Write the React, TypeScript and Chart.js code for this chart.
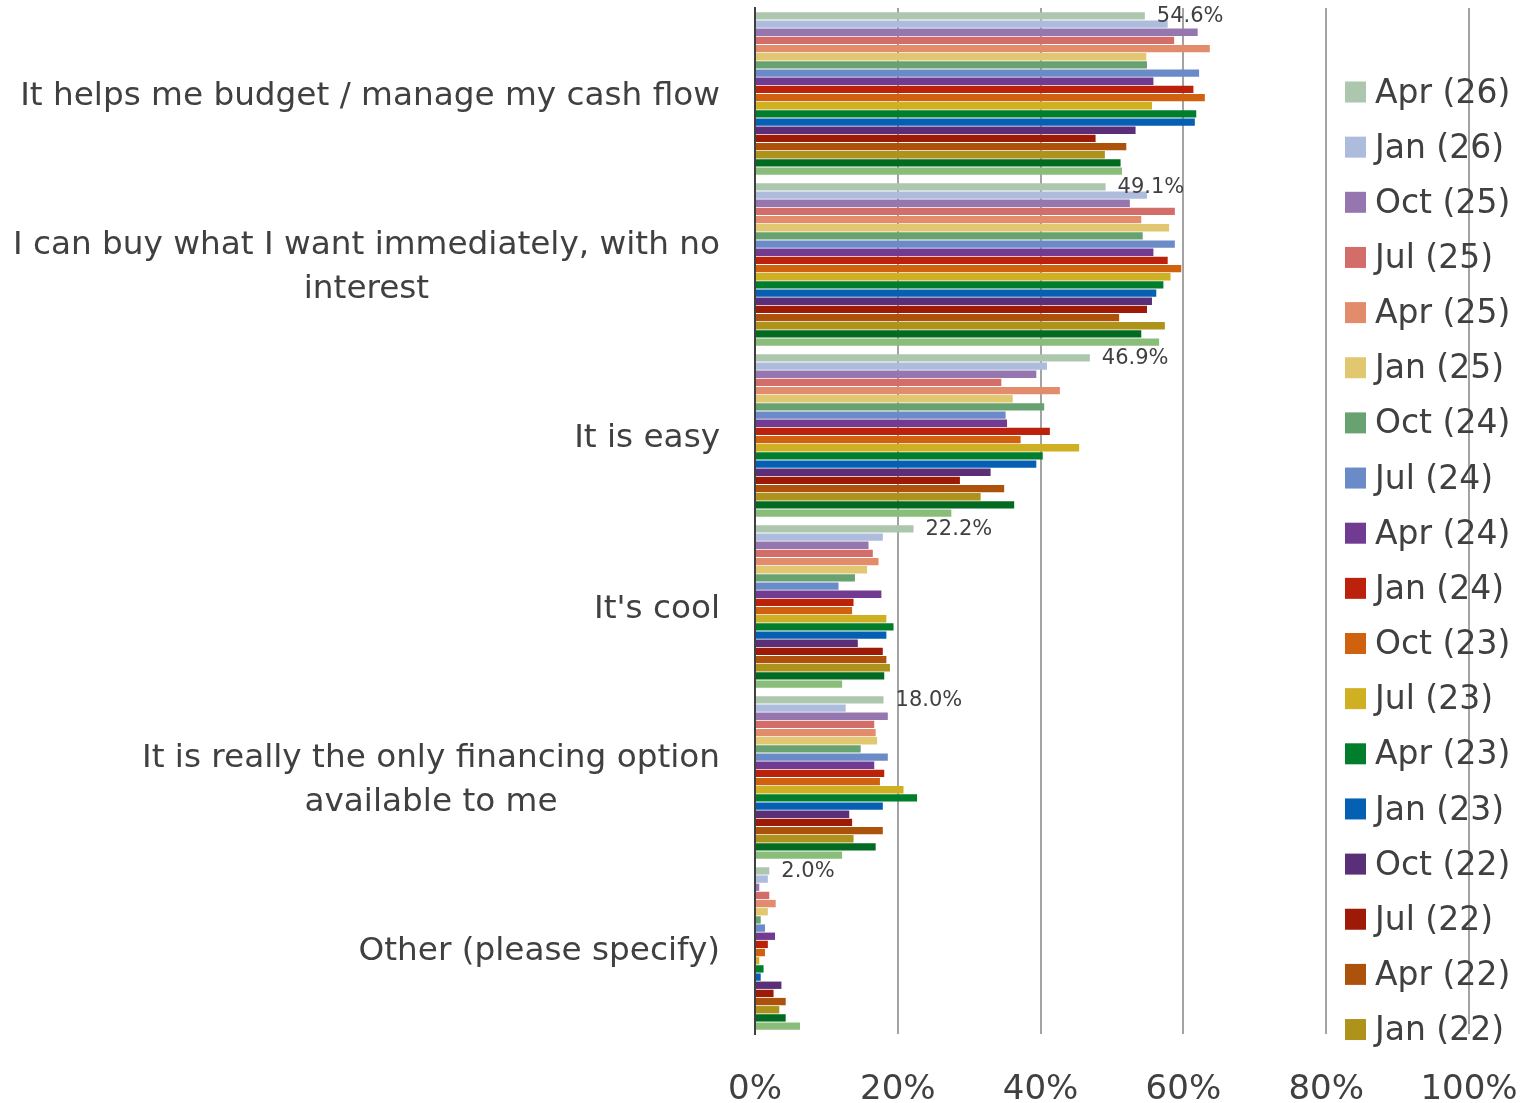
import React, { useEffect, useRef } from "react";
import { Chart, registerables } from "chart.js";

Chart.register(...registerables);

const categories: string[][] = [
  ["It helps me budget / manage my cash flow"],
  ["I can buy what I want immediately, with no", "interest"],
  ["It is easy"],
  ["It's cool"],
  ["It is really the only financing option", "available to me"],
  ["Other (please specify)"],
];

const xTicks = [0, 20, 40, 60, 80, 100];

const seriesLabels = [
  "Apr (26)", "Jan (26)", "Oct (25)", "Jul (25)", "Apr (25)", "Jan (25)",
  "Oct (24)", "Jul (24)", "Apr (24)", "Jan (24)", "Oct (23)", "Jul (23)",
  "Apr (23)", "Jan (23)", "Oct (22)", "Jul (22)", "Apr (22)", "Jan (22)",
  "Oct (21)", "Jul (21)",
];

const seriesColors = [
  "#adc6ae", "#adbbdd", "#9676ae", "#d36d69", "#e38c6c", "#e1c770",
  "#68a271", "#6a8ac8", "#703b90", "#bc220b", "#d0620f", "#cfb022",
  "#007e2b", "#055fb3", "#5b2f77", "#9c1a06", "#ad520b", "#ad921c",
  "#036a22", "#8abd79",
];

// values per series, in category order
const apr26 = [54.6, 49.1, 46.9, 22.2, 18.0, 2.0];
const jan26 = [57.8, 54.9, 40.9, 17.9, 12.7, 1.8];
const oct25 = [62.0, 52.5, 39.4, 15.9, 18.6, 0.6];
const jul25 = [58.7, 58.8, 34.5, 16.5, 16.7, 2.0];
const apr25 = [63.7, 54.1, 42.7, 17.3, 16.9, 2.9];
const jan25 = [54.8, 58.0, 36.1, 15.7, 17.1, 1.8];
const oct24 = [54.9, 54.3, 40.5, 14.0, 14.8, 0.8];
const jul24 = [62.2, 58.8, 35.1, 11.7, 18.6, 1.4];
const apr24 = [55.8, 55.8, 35.3, 17.7, 16.7, 2.8];
const jan24 = [61.4, 57.8, 41.3, 13.8, 18.1, 1.8];
const oct23 = [63.0, 59.7, 37.2, 13.6, 17.5, 1.4];
const jul23 = [55.6, 58.2, 45.4, 18.4, 20.8, 0.6];
const apr23 = [61.8, 57.2, 40.3, 19.4, 22.7, 1.2];
const jan23 = [61.6, 56.2, 39.4, 18.4, 17.9, 0.8];
const oct22 = [53.3, 55.6, 33.0, 14.4, 13.2, 3.7];
const jul22 = [47.7, 54.9, 28.7, 17.9, 13.6, 2.6];
const apr22 = [52.0, 51.0, 34.9, 18.4, 17.9, 4.3];
const jan22 = [49.0, 57.4, 31.6, 18.9, 13.8, 3.4];
const oct21 = [51.2, 54.1, 36.3, 18.1, 16.9, 4.3];
const jul21 = [51.4, 56.6, 27.5, 12.2, 12.2, 6.3];

const seriesValues = [
  apr26, jan26, oct25, jul25, apr25, jan25, oct24, jul24, apr24, jan24,
  oct23, jul23, apr23, jan23, oct22, jul22, apr22, jan22, oct21, jul21,
];

const legendShown = 18;
const FONT = "'DejaVu Sans', Verdana, sans-serif";
const TEXT = "#404040";

const categoryLabelPlugin = {
  id: "categoryLabels",
  afterDraw(chart: any) {
    const { ctx, chartArea } = chart;
    const y = chart.scales.y;
    ctx.save();
    ctx.font = `32.7px ${FONT}`;
    ctx.fillStyle = TEXT;
    ctx.textAlign = "center";
    ctx.textBaseline = "middle";
    const right = chartArea.left - 35;
    const lh = 44;
    categories.forEach((lines, i) => {
      const cy = y.getPixelForTick(i) + 3;
      const w = Math.max(...lines.map((l) => ctx.measureText(l).width));
      const cx = right - w / 2;
      const top = cy - ((lines.length - 1) * lh) / 2;
      lines.forEach((l, j) => ctx.fillText(l, cx, top + j * lh));
    });
    ctx.restore();
  },
};

const dataLabelPlugin = {
  id: "dataLabels",
  afterDatasetsDraw(chart: any) {
    const { ctx } = chart;
    const meta = chart.getDatasetMeta(0);
    ctx.save();
    ctx.font = `21px ${FONT}`;
    ctx.fillStyle = TEXT;
    ctx.textAlign = "left";
    ctx.textBaseline = "middle";
    meta.data.forEach((el: any, i: number) => {
      const v = chart.data.datasets[0].data[i];
      ctx.fillText(`${v.toFixed(1)}%`, el.x + 12, el.y + 1);
    });
    ctx.restore();
  },
};

const legendPlugin = {
  id: "sideLegend",
  afterDraw(chart: any) {
    const { ctx } = chart;
    ctx.save();
    ctx.font = `33px ${FONT}`;
    ctx.textAlign = "left";
    ctx.textBaseline = "middle";
    const x0 = 1345;
    const y0 = 92;
    const step = 55.15;
    chart.data.datasets.slice(0, legendShown).forEach((ds: any, i: number) => {
      const cy = y0 + i * step;
      ctx.fillStyle = ds.backgroundColor;
      ctx.fillRect(x0, cy - 10.5, 21, 21);
      ctx.fillStyle = TEXT;
      ctx.fillText(ds.label, x0 + 30, cy + 2);
    });
    ctx.restore();
  },
};

export default function App() {
  const ref = useRef<HTMLCanvasElement>(null);
  useEffect(() => {
    if (!ref.current) return;
    const chart = new Chart(ref.current, {
      type: "bar",
      data: {
        labels: categories.map((c) => c.join(" ")),
        datasets: seriesLabels.map((label, i) => ({
          label,
          data: seriesValues[i],
          backgroundColor: seriesColors[i],
          borderWidth: 0,
          categoryPercentage: 0.955,
          barPercentage: 0.9,
        })),
      },
      options: {
        indexAxis: "y",
        animation: false,
        responsive: false,
        devicePixelRatio: 1,
        layout: { padding: { top: 8, right: 67, left: 0, bottom: 0 } },
        plugins: {
          legend: { display: false },
          tooltip: { enabled: false },
        },
        scales: {
          x: {
            min: 0,
            max: 100,
            afterBuildTicks: (s: any) => {
              s.ticks = xTicks.map((v) => ({ value: v }));
            },
            afterFit: (s: any) => {
              s.height = 69;
              s.paddingLeft = 0;
              s.paddingRight = 0;
            },
            ticks: {
              callback: (v: any) => `${v}%`,
              font: { family: FONT, size: 34 },
              color: TEXT,
              padding: 36,
              maxRotation: 0,
            },
            grid: {
              color: (c: any) => (c.tick && c.tick.value === 0 ? "rgba(0,0,0,0)" : "#a3a3a3"),
              lineWidth: 2,
              drawTicks: false,
            },
            border: { display: false },
          },
          y: {
            afterFit: (s: any) => {
              s.width = 755;
            },
            ticks: { display: false },
            grid: { display: false, drawTicks: false },
            border: { display: true, color: "#404040", width: 2 },
          },
        },
      },
      plugins: [categoryLabelPlugin, dataLabelPlugin, legendPlugin],
    });
    return () => chart.destroy();
  }, []);
  return (
    <div style={{ position: "fixed", left: 0, top: 0, width: 1536, height: 1103, background: "#fff" }}>
      <canvas ref={ref} width={1536} height={1103} />
    </div>
  );
}
